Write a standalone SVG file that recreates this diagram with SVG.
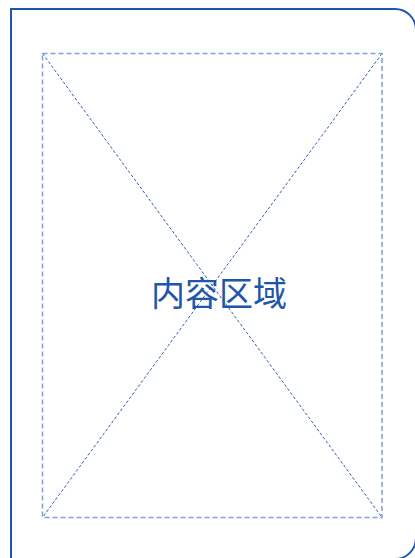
<svg xmlns="http://www.w3.org/2000/svg" width="415" height="558" viewBox="0 0 415 558">
<style>
.frame{fill:none;stroke:#1f56a8;stroke-width:2}
.area{fill:none;stroke:#7f9fd2;stroke-width:1.5;stroke-dasharray:5 3}
.diag{fill:none;stroke:#2f62b0;stroke-width:1;stroke-dasharray:3 2}
.label{font-family:"Noto Sans CJK SC","Noto Sans",sans-serif;font-size:34px;fill:#1f56a8}
</style>
<rect width="415" height="558" fill="#ffffff"/>
<g id="device">
<path class="frame" d="M11 560 V9 H395 A21 21 0 0 1 416 30 V538 A21 21 0 0 1 395 559"/>
</g>
<g id="connectors">
<line class="diag" x1="42.5" y1="53.5" x2="382" y2="517.5"/>
<line class="diag" x1="382" y1="53.5" x2="42.5" y2="517.5"/>
</g>
<g id="content-area">
<rect class="area" x="42.5" y="53.5" width="339.5" height="464"/>
<text class="label" x="219" y="306" text-anchor="middle">内容区域</text>
</g>
</svg>
